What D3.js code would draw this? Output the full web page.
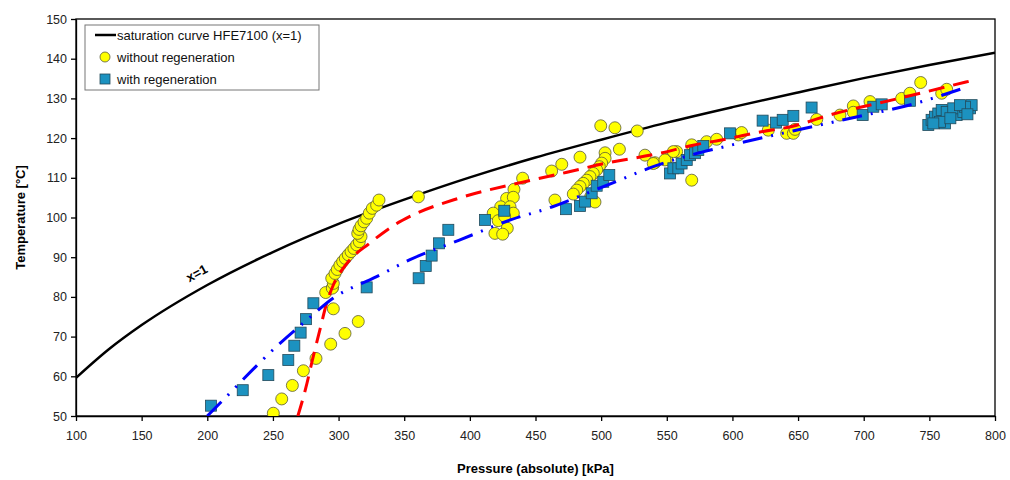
<!DOCTYPE html>
<html>
<head>
<meta charset="utf-8">
<script src="https://cdn.jsdelivr.net/npm/d3@7"></script>
<style>
  body { margin: 0; background: #fff; }
  svg { font-family: "Liberation Sans", Arial, sans-serif; }
  .axis text { font-size: 12.5px; fill: #222; }
  .axis path, .axis line { stroke: #000; stroke-width: 1.3; }
</style>
</head>
<body>
<svg id="chart" width="1010" height="480"></svg>
<script>
// saturation curve HFE7100 (x=1)
const satP = [100, 125, 150, 200, 250, 300, 350, 400, 450, 500, 550, 600, 650, 700, 750, 800];
const satT = [59.6, 66.8, 72.9, 83.0, 91.3, 98.4, 104.5, 110.1, 115.1, 119.6, 123.9, 127.8, 131.5, 135.1, 138.4, 141.5];

// fitted trend, without regeneration (red dashed)
const fitNoRegP = [269, 275, 280, 286, 291, 296, 306, 324, 344, 354, 392, 440, 474, 504, 545, 570, 596, 619, 646, 676, 728, 780];
const fitNoRegT = [50, 57, 64, 72, 78.5, 83, 88.3, 93.6, 98.4, 100.2, 104.9, 108.9, 111.4, 113.7, 116.2, 118.2, 119.8, 121.4, 123.0, 126.0, 130.1, 134.3];

// fitted trend, with regeneration (blue dash-dot-dot)
const fitRegP = [200, 212, 238, 256, 276, 296, 329, 354, 392, 431, 463, 492, 517, 537, 568, 596, 631, 646, 690, 740, 778];
const fitRegT = [50, 54, 62.8, 68.5, 74.2, 79.7, 85.1, 89.3, 94.3, 99.4, 102.7, 106.5, 109.8, 112.5, 115.7, 118, 120.7, 121.8, 125, 128.8, 132.8];

// measurements without regeneration
const noRegP = [250.3, 256.7, 264.8, 273.2, 282.8, 294, 304.9, 315, 296, 290.2, 295.5,
  295.2, 296, 294.8, 297.3, 299, 301, 303.1, 305.1, 307.4, 309.5, 311.7, 313.8, 315.8, 317.1,
  314.6, 315.6, 317.1, 319.4, 321.4, 323.4, 325.7, 329, 330.8, 360.8,
  440.2, 433.6, 428, 433.1, 423.5, 430.6, 433.1, 417.8, 421.6, 428.5, 419.1, 425, 426.5,
  499.7, 510.5, 527.5, 462.3, 470, 483.9, 503, 503, 513.9, 500.4, 498.6, 496.6, 494, 491.5,
  489, 486.4, 483.9, 481.4, 478.8, 464.8, 492, 495.3, 533.4, 541, 549.9, 557.5,
  539.7, 548.6, 555, 569, 569, 580.4, 588, 604.5, 607, 627.3, 641.3, 646.4, 647.7,
  664.2, 681.9, 692.1, 692.1, 704.8, 728.9, 735.2, 743.4, 759.4, 763.2];
const noRegT = [50.7, 54.3, 57.7, 61.4, 64.5, 68.1, 70.8, 73.8, 77.0, 81.1, 82.4,
  82.2, 83.4, 84.7, 85.9, 86.9, 88, 88.9, 89.7, 90.6, 91.4, 92.2, 93.1, 93.9, 95.2,
  96.0, 97.0, 97.9, 98.9, 99.8, 101.1, 102.3, 103.1, 104.4, 105.2,
  109.9, 107.1, 104.8, 105.1, 102.7, 102.7, 101.1, 101.1, 99.2, 97.3, 96.0, 95.8, 100.3,
  123.1, 122.6, 121.8, 111.7, 113.4, 115.2, 116.3, 114.9, 117.2, 113.7, 112.8, 112.0, 111.1, 110.3,
  109.4, 108.6, 107.8, 106.9, 105.9, 104.4, 105.2, 103.9, 115.7, 113.8, 114.7, 116.6,
  113.6, 114.5, 116.6, 118.3, 109.4, 119.1, 119.7, 120.8, 121.4, 122.0, 121.2, 121.2, 122.2,
  124.7, 125.8, 128.1, 126.5, 129.2, 130.0, 131.3, 134.0, 131.3, 132.3];

// measurements with regeneration
const regP = [202.8, 227, 246.5, 261.7, 266.3, 271.1, 275.2, 280.8, 321.4,
  361, 366.4, 370.9, 376.5, 383.6, 411.5, 426.2,
  473.2, 483.9, 487.7, 492.8, 496.6, 501.6, 506.2,
  552.4, 555, 558.8, 561.3, 565.2, 567.7, 571.5, 574, 577.8, 598.1,
  623, 633.2, 638.3, 646.4, 660.3, 699.2, 707.3, 713.7, 735.2,
  749.2, 751.7, 754.3, 756.8, 759.4, 763.2, 761.9, 770.8, 768.2, 775.9, 781, 782.2, 777.1, 773.3, 758.1, 753, 766, 779];
const regT = [52.6, 56.5, 60.3, 64.1, 67.7, 71.0, 74.4, 78.4, 82.4,
  84.7, 87.8, 90.4, 93.5, 96.9, 99.4, 101.7,
  102.1, 102.9, 104.0, 106.1, 108.0, 109.0, 110.7,
  111.1, 112.4, 112.4, 113.6, 114.5, 115.7, 116.2, 117.0, 118.0, 121.2,
  124.4, 123.9, 124.6, 125.6, 127.7, 125.8, 127.9, 128.5, 129.4,
  123.3, 124.6, 125.4, 126.2, 127.1, 126.6, 123.7, 125.8, 127.5, 126.6, 127.5, 128.3, 127.9, 128.3, 124.1, 123.7, 125.0, 126.0];

const xTicks = d3.range(100, 801, 50);
const yTicks = d3.range(50, 151, 10);

const svg = d3.select('#chart');
const margin = {top: 19, right: 15, bottom: 64, left: 76},
    width = +svg.attr('width') - margin.left - margin.right,
    height = +svg.attr('height') - margin.top - margin.bottom;

const x = d3.scaleLinear().domain([100, 800]).range([0, width]);
const y = d3.scaleLinear().domain([50, 150]).range([height, 0]);

const g = svg.append('g')
    .attr('transform', 'translate(' + margin.left + ',' + margin.top + ')');

svg.append('defs').append('clipPath').attr('id', 'plot-clip')
    .append('rect').attr('width', width).attr('height', height);

// axes
g.append('g')
    .attr('class', 'axis')
    .attr('transform', 'translate(0,' + height + ')')
    .call(d3.axisBottom(x).tickValues(xTicks).tickSize(5).tickSizeOuter(0).tickPadding(10));

g.append('g')
    .attr('class', 'axis')
    .call(d3.axisLeft(y).tickValues(yTicks).tickSize(5).tickSizeOuter(0).tickPadding(4));

// frame
g.append('rect')
    .attr('width', width).attr('height', height)
    .attr('fill', 'none').attr('stroke', '#000').attr('stroke-width', 1.3);

const plot = g.append('g').attr('clip-path', 'url(#plot-clip)');

const line = d3.line()
    .x(d => x(d[0]))
    .y(d => y(d[1]))
    .curve(d3.curveMonotoneX);

plot.append('path')
    .datum(satP.map((p, i) => [p, satT[i]]))
    .attr('d', line)
    .attr('fill', 'none')
    .attr('stroke', '#000')
    .attr('stroke-width', 2.5);

// yellow circles
plot.selectAll('.noreg')
    .data(noRegP.map((p, i) => [p, noRegT[i]]))
  .enter().append('circle')
    .attr('class', 'noreg')
    .attr('cx', d => x(d[0]))
    .attr('cy', d => y(d[1]))
    .attr('r', 6)
    .attr('fill', '#ffff00')
    .attr('stroke', '#5a5a3a')
    .attr('stroke-width', 0.8);

// blue squares
plot.selectAll('.reg')
    .data(regP.map((p, i) => [p, regT[i]]))
  .enter().append('rect')
    .attr('class', 'reg')
    .attr('x', d => x(d[0]) - 5.5)
    .attr('y', d => y(d[1]) - 5.5)
    .attr('width', 11)
    .attr('height', 11)
    .attr('fill', '#1c92c0')
    .attr('stroke', '#234a5a')
    .attr('stroke-width', 0.8);

// fitted lines
plot.append('path')
    .datum(fitNoRegP.map((p, i) => [p, fitNoRegT[i]]))
    .attr('d', line)
    .attr('fill', 'none')
    .attr('stroke', '#ff0000')
    .attr('stroke-width', 3)
    .attr('stroke-dasharray', '16,9');

plot.append('path')
    .datum(fitRegP.map((p, i) => [p, fitRegT[i]]))
    .attr('d', line)
    .attr('fill', 'none')
    .attr('stroke', '#0000ff')
    .attr('stroke-width', 3)
    .attr('stroke-dasharray', '20,9,2,9,2,9');

// x=1 label, just above the saturation curve
g.append('text')
    .attr('transform', 'translate(' + x(192) + ',' + y(86) + ') rotate(-29)')
    .attr('text-anchor', 'middle')
    .attr('dy', '0.35em')
    .attr('font-size', 13)
    .attr('font-weight', 'bold')
    .text('x=1');

// axis titles
svg.append('text')
    .attr('x', margin.left + width / 2)
    .attr('y', 473)
    .attr('text-anchor', 'middle')
    .attr('font-size', 13)
    .attr('font-weight', 'bold')
    .text('Pressure (absolute)  [kPa]');

svg.append('text')
    .attr('transform', 'translate(25,' + (margin.top + height / 2) + ') rotate(-90)')
    .attr('text-anchor', 'middle')
    .attr('font-size', 13)
    .attr('font-weight', 'bold')
    .text('Temperature [°C]');

// legend
const legend = g.append('g').attr('transform', 'translate(9,6)');
legend.append('rect')
    .attr('width', 234).attr('height', 65)
    .attr('fill', '#fff').attr('stroke', '#777').attr('stroke-width', 1);

const legendItems = ['saturation curve HFE7100 (x=1)', 'without regeneration', 'with regeneration'];
const li = legend.selectAll('.li')
    .data(legendItems)
  .enter().append('g')
    .attr('transform', (d, i) => 'translate(0,' + (10 + i * 22) + ')');

li.append('text')
    .attr('x', 32)
    .attr('y', 0)
    .attr('dy', '0.35em')
    .attr('font-size', 13)
    .attr('fill', '#111')
    .text(d => d);

li.filter((d, i) => i === 0).append('line')
    .attr('x1', 10).attr('x2', 31).attr('y1', 0).attr('y2', 0)
    .attr('stroke', '#000').attr('stroke-width', 2.5);
li.filter((d, i) => i === 1).append('circle')
    .attr('cx', 20).attr('cy', 0).attr('r', 5)
    .attr('fill', '#ffff00').attr('stroke', '#5a5a3a').attr('stroke-width', 0.8);
li.filter((d, i) => i === 2).append('rect')
    .attr('x', 15).attr('y', -5).attr('width', 10).attr('height', 10)
    .attr('fill', '#1c92c0').attr('stroke', '#234a5a').attr('stroke-width', 0.8);
</script>
</body>
</html>
